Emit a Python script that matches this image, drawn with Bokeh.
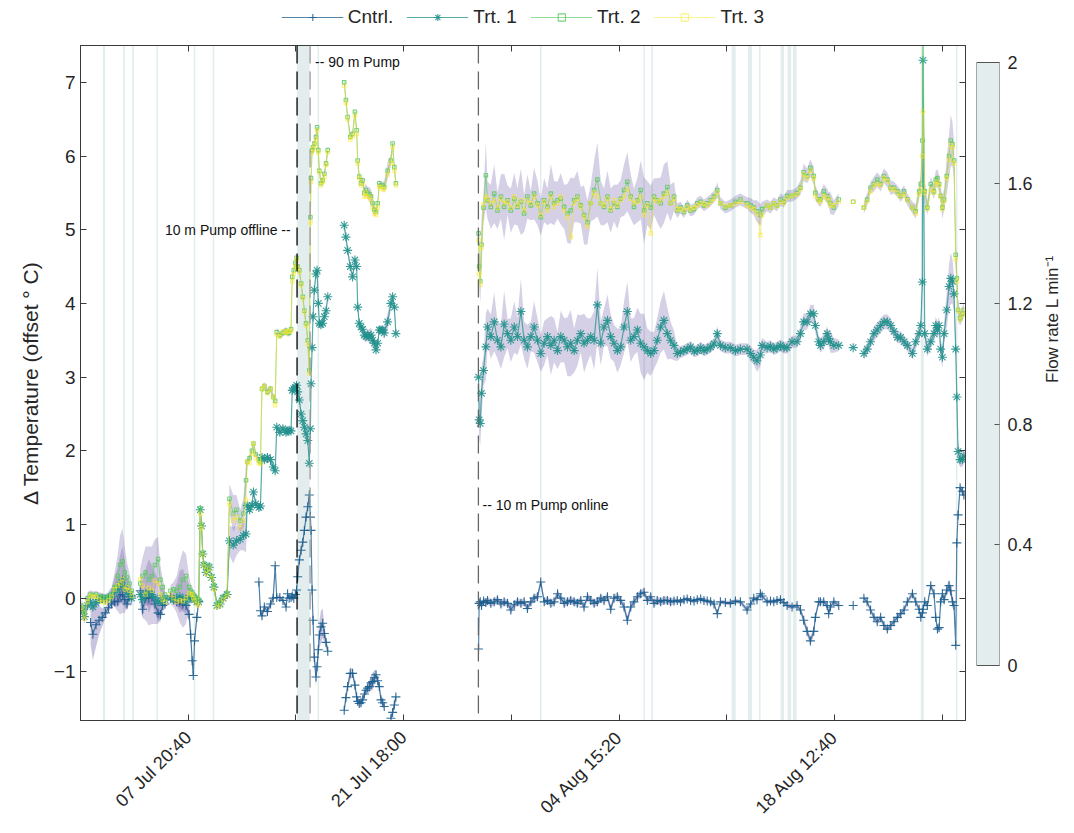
import math
from bokeh.plotting import figure
from bokeh.layouts import row, column
from bokeh.models import (Range1d, LinearAxis, FixedTicker, Legend, LegendItem, Label, Span)
from bokeh.embed import file_html
from bokeh.resources import INLINE

nan = float("nan")
FONT = "Liberation Sans"
TXT = "#262626"

# ---------------- data (time = days since 30 Jun 22:00) ----------------
days = [
    0.05, 0.25, 0.45, 0.65, 0.80, 1.00, 1.20, 1.40, 1.60, 1.80, 2.00, 2.20, 2.40, 2.55, 2.70, 2.85, 3.00, 3.15, 3.30,
    3.55,
    3.85, 4.00, 4.20, 4.40, 4.60, 4.80, 5.00, 5.15, 5.30, 5.45,
    5.62,
    5.80, 6.00, 6.20, 6.40, 6.60, 6.80, 7.00, 7.10, 7.20, 7.27, 7.35, 7.50, 7.62,
    7.72, 7.80, 7.88, 7.95, 8.10, 8.30, 8.45, 8.60, 8.80, 9.00, 9.20, 9.45,
    9.60, 9.85, 10.05, 10.30, 10.50, 10.67,
    10.75, 10.90, 11.05, 11.15, 11.30, 11.50,
    11.60, 11.70, 11.85, 12.05, 12.25, 12.42, 12.55,
    12.65, 12.85, 13.05, 13.25, 13.35, 13.45, 13.57,
    13.65, 13.75, 13.85, 13.93,
    14.00, 14.11, 14.22, 14.33, 14.43, 14.54, 14.65, 14.75, 14.82, 14.86, 14.93, 14.99, 15.07, 15.18, 15.25, 15.33, 15.40, 15.50, 15.61, 15.72, 15.83, 15.94,
    16.50,
    17.00, 17.11, 17.22, 17.39, 17.54, 17.69, 17.80, 17.87, 17.97, 18.08, 18.19, 18.30, 18.40, 18.51, 18.62, 18.73, 18.83, 18.94, 19.05, 19.16, 19.26, 19.37, 19.48, 19.58, 19.80, 20.01, 20.12, 20.23, 20.33,
    23.00,
    25.66, 25.70, 25.77, 25.85, 25.98, 26.13, 26.24, 26.45,
    26.67, 26.88, 27.10, 27.31, 27.53, 27.74, 27.96, 28.17,
    28.39, 28.60, 28.81, 29.03, 29.24, 29.46, 29.67, 29.89,
    30.10, 30.32, 30.53, 30.75, 30.96, 31.18, 31.39, 31.60,
    31.82, 32.03, 32.25, 32.46, 32.68, 32.89, 33.11, 33.32,
    33.54, 33.75, 33.97, 34.18, 34.39, 34.61, 34.82, 35.04,
    35.25, 35.47, 35.68, 35.90, 36.11, 36.33, 36.54, 36.76,
    36.97, 37.18, 37.40, 37.61, 37.83, 38.04, 38.26, 38.47,
    38.68, 38.90, 39.11, 39.33, 39.55, 39.76, 39.98, 40.19, 40.40, 40.62, 40.84, 41.05,
    41.25, 41.57, 41.89, 42.22, 42.54, 42.97, 43.20, 43.40, 43.61, 43.83,
    43.94, 44.26, 44.48, 44.69, 44.90, 45.12, 45.34, 45.55, 45.87, 46.19,
    46.41, 46.62, 46.84, 47.05, 47.27, 47.37, 47.59, 47.70, 47.91, 48.13,
    48.23, 48.34, 48.56, 48.88,
    49.30, 49.81, 50.10,
    50.50, 50.71, 50.93, 51.15, 51.36, 51.58, 51.79, 52.01, 52.23, 52.44,
    52.66, 52.87, 53.09, 53.30, 53.63, 53.84, 54.06, 54.17, 54.27, 54.31,
    54.42, 54.59, 54.81, 55.02, 55.13, 55.24, 55.35, 55.45, 55.56, 55.67,
    55.84, 55.99, 56.10, 56.21, 56.31, 56.42, 56.49, 56.57, 56.70, 56.85,
    56.95,
]

cntrl = [
    nan, nan, nan, -0.33, -0.49, -0.36, -0.30, -0.26, -0.20, -0.13, -0.08, -0.05, -0.04, 0.03, 0.05, -0.02, -0.08, 0.02, 0.03,
    nan,
    0.10, -0.15, 0.00, 0.00, 0.02, -0.08, -0.20, -0.22, -0.10, -0.08,
    nan,
    0.03, -0.02, -0.05, -0.05, -0.08, -0.10, -0.22, -0.49, -0.85, -1.05, -0.58, -0.26, -0.04,
    nan, nan, nan, nan, nan, nan, nan, nan, nan, nan, nan, nan,
    nan, nan, nan, nan, nan, nan,
    nan, nan, nan, nan, nan, 0.22,
    -0.17, -0.24, -0.12, -0.18, -0.08, 0.00, 0.44,
    0.01, 0.01, -0.03, -0.12, 0.06, 0.00, 0.01,
    0.03, 0.00, 0.05, 0.11,
    0.29, 0.52, 0.65, 0.76, 0.92, 1.10, 1.24, 1.40, 1.10, 0.92, 0.11, -0.30, -0.80, -1.07, -0.93, -0.70, -0.50, -0.39, -0.34, -0.48, -0.60, -0.72,
    nan,
    -1.52, -1.35, -1.20, -1.02, -1.02, -1.18, -1.34, -1.40, -1.43, -1.42, -1.38, -1.30, -1.25, -1.22, -1.20, -1.15, -1.13, -1.08, -1.04, -1.12, -1.20, -1.38, -1.42, -1.47, nan, -1.63, -1.55, -1.45, -1.34,
    nan,
    -0.69, -0.07, -0.05, -0.10, -0.04, -0.06, -0.03, -0.07,
    -0.05, -0.02, -0.08, -0.05, -0.07, -0.16, -0.09, -0.05,
    -0.07, -0.05, -0.14, -0.05, 0.00, 0.02, 0.22, -0.05,
    -0.03, -0.07, -0.05, 0.06, 0.00, -0.07, -0.05, -0.03,
    -0.05, -0.07, -0.03, -0.12, 0.02, -0.03, -0.07, -0.05,
    0.00, -0.03, 0.02, -0.15, 0.00, 0.02, -0.03, -0.12,
    -0.30, -0.12, -0.05, 0.02, 0.06, 0.08, -0.03, 0.02,
    -0.07, -0.03, -0.05, -0.03, -0.03, -0.05, -0.04, -0.03,
    -0.05, -0.02, -0.01, -0.03, -0.04, -0.02, -0.01, -0.03, -0.04, -0.05, -0.08, -0.21,
    -0.05, -0.06, -0.07, -0.04, -0.05, -0.16, -0.08, 0.00, -0.02, 0.06,
    0.03, -0.05, -0.04, -0.05, -0.03, -0.02, -0.06, -0.10, -0.12, -0.10,
    -0.16, -0.30, -0.45, -0.58, -0.45, -0.26, -0.05, -0.05, -0.05, -0.10,
    -0.21, -0.12, -0.05, -0.10,
    nan, -0.10, nan,
    0.00, -0.05, -0.16, -0.26, -0.32, -0.26, -0.37, -0.42, -0.37, -0.32,
    -0.26, -0.21, -0.16, -0.05, 0.06, -0.05, -0.15, -0.26, -0.20, -0.15,
    -0.05, -0.10, 0.17, 0.06, -0.26, -0.42, -0.40, -0.05, 0.06, -0.02,
    0.11, 0.17, 0.10, -0.05, -0.10, -0.64, 0.75, 1.13, 1.50, 1.45,
    1.40,
]

trt1 = [
    -0.15, -0.25, -0.10, -0.05, -0.12, -0.06, -0.02, 0.00, -0.02, 0.00, 0.02, 0.08, 0.12, 0.18, 0.25, 0.15, 0.08, 0.05, 0.00,
    nan,
    0.05, -0.02, 0.05, 0.08, 0.05, 0.00, -0.05, -0.05, 0.00, -0.02,
    nan,
    0.00, -0.02, 0.00, 0.02, 0.00, -0.05, 0.00, 0.02, 0.02, 0.00, -0.02, -0.05, -0.05,
    1.20, 0.98, 0.60, 0.45, 0.35, 0.42, 0.28, 0.15, -0.10, -0.08, 0.00, 0.05,
    0.78, 0.72, 0.78, 0.80, 0.85, 0.87,
    1.26, 1.20, 1.26, 1.44, 1.28, 1.23,
    1.25, 1.91, 1.88, 1.91, 1.88, 1.78, 1.73,
    2.32, 2.25, 2.30, 2.25, 2.27, 2.28, 2.27,
    2.82, 2.84, 2.86, 2.89,
    2.80, 2.69, 2.50, 2.41, 2.32, 2.23, 2.14, 1.83, 2.30, 2.91, 3.40, 3.82, 4.18, 4.40, 4.45, 4.00, 3.73, 3.71, 3.73, 3.82, 3.90, 4.09,
    nan,
    5.06, 4.90, 4.72, 4.50, 4.36, 4.59, 4.50, 3.95, 3.73, 3.68, 3.65, 3.57, 3.55, 3.57, 3.55, 3.57, 3.50, 3.46, 3.37, 3.46, 3.64, 3.64, 3.64, 3.60, 3.75, 4.00, 4.09, 3.95, 3.59,
    nan,
    3.00, 2.42, 2.37, 2.78, 3.09, 3.41, 3.68, 3.55,
    3.75, 3.50, 3.41, 3.72, 3.59, 3.50, 3.68, 3.55,
    3.89, 3.50, 3.41, 3.55, 3.68, 3.50, 3.32, 3.46,
    3.55, 3.43, 3.50, 3.36, 3.55, 3.50, 3.41, 3.46,
    3.36, 3.50, 3.59, 3.46, 3.50, 3.55, 3.50, 3.98,
    3.46, 3.68, 3.77, 3.55, 3.46, 3.36, 3.41, 3.68,
    3.89, 3.50, 3.55, 3.64, 3.46, 3.41, 3.36, 3.32,
    3.36, 3.50, 3.68, 3.77, 3.59, 3.50, 3.43, 3.32,
    3.34, 3.36, 3.38, 3.41, 3.35, 3.36, 3.40, 3.36, 3.38, 3.41, 3.45, 3.59,
    3.43, 3.40, 3.40, 3.36, 3.38, 3.38, 3.32, 3.27, 3.22, 3.30,
    3.43, 3.40, 3.42, 3.38, 3.40, 3.43, 3.40, 3.40, 3.48, 3.48,
    3.59, 3.75, 3.75, 3.86, 3.86, 3.70, 3.48, 3.43, 3.48, 3.59,
    3.52, 3.48, 3.43, 3.43,
    nan, 3.40, nan,
    3.32, 3.38, 3.48, 3.59, 3.64, 3.70, 3.75, 3.75, 3.70, 3.62,
    3.54, 3.54, 3.48, 3.43, 3.32, 3.48, 3.59, 3.70, 4.29, 7.30,
    3.59, 3.38, 3.48, 3.59, 3.70, 3.64, 3.70, 3.38, 3.27, 3.59,
    3.91, 4.23, 4.34, 4.30, 4.13, 3.38, 2.73, 1.99, 1.88, 1.88,
    1.93,
]

trt2 = [
    -0.10, -0.20, 0.00, 0.05, 0.04, 0.05, 0.03, 0.02, 0.00, 0.03, 0.05, 0.15, 0.30, 0.45, 0.50, 0.35, 0.28, 0.20, 0.10,
    nan,
    0.20, 0.30, 0.35, 0.25, 0.30, 0.45, 0.53, 0.25, 0.15, 0.05,
    nan,
    0.10, 0.12, 0.10, 0.15, 0.25, 0.30, 0.15, 0.10, 0.08, 0.05, 0.03, 0.00, -0.02,
    1.22, 1.00, 0.62, 0.47, 0.38, 0.45, 0.30, 0.18, -0.08, -0.05, 0.02, 0.07,
    1.35, 1.15, 1.20, 1.05, 1.15, 1.60,
    1.85, 1.90, 2.00, 2.10, 1.95, 1.87,
    1.85, 2.84, 2.88, 2.80, 2.84, 2.73, 2.68,
    3.61, 3.57, 3.60, 3.63, 3.60, 3.60, 3.65,
    4.36, 4.45, 4.55, 4.62,
    4.50, 4.45, 4.27, 4.09, 3.90, 3.73, 3.50, 3.09, 5.17, 5.70, 6.08, 6.12, 6.17, 6.26, 6.39, 6.08, 5.80, 5.63, 5.67, 5.76, 5.90, 6.08,
    nan,
    7.00, 6.76, 6.53, 6.26, 6.30, 6.60, 6.35, 5.94, 5.72, 5.63, 5.67, 5.50, 5.54, 5.50, 5.48, 5.45, 5.36, 5.27, 5.24, 5.36, 5.63, 5.60, 5.60, 5.58, 5.80, 5.94, 6.17, 5.85, 5.63,
    nan,
    4.95, 4.50, 4.30, 4.80, 5.30, 5.74, 5.40, 5.31,
    5.49, 5.26, 5.45, 5.31, 5.40, 5.26, 5.42, 5.31,
    5.38, 5.22, 5.45, 5.33, 5.49, 5.36, 5.17, 5.40,
    5.31, 5.49, 5.36, 5.40, 5.42, 5.31, 5.22, 5.26,
    5.40, 5.45, 5.33, 5.20, 5.10, 5.36, 5.54, 5.68,
    5.36, 5.31, 5.45, 5.26, 5.36, 5.31, 5.42, 5.54,
    5.65, 5.45, 5.31, 5.40, 5.54, 5.26, 5.36, 5.30,
    5.45, 5.40, 5.36, 5.49, 5.58, 5.36, 5.45, 5.26,
    5.30, 5.24, 5.33, 5.26, 5.28, 5.36, 5.38, 5.33, 5.36, 5.40, 5.45, 5.54,
    5.36, 5.30, 5.33, 5.38, 5.41, 5.36, 5.33, 5.30, 5.25, 5.20,
    5.28, 5.33, 5.30, 5.36, 5.33, 5.41, 5.38, 5.46, 5.46, 5.50,
    5.57, 5.78, 5.73, 5.84, 5.73, 5.50, 5.41, 5.41, 5.52, 5.46,
    5.41, 5.36, 5.30, 5.41,
    nan, 5.38, nan,
    5.30, 5.41, 5.57, 5.62, 5.68, 5.62, 5.73, 5.68, 5.57, 5.57,
    5.52, 5.46, 5.52, 5.41, 5.30, 5.25, 5.52, 5.62, 6.21, 7.60,
    5.52, 5.30, 5.62, 5.52, 5.68, 5.70, 5.62, 5.46, 5.30, 5.41,
    5.73, 6.00, 6.21, 6.16, 5.94, 4.66, 4.34, 3.91, 3.80, 3.86,
    3.91,
]

trt3 = [
    -0.13, -0.28, -0.05, 0.03, 0.02, 0.02, -0.02, -0.05, -0.06, -0.03, 0.02, 0.12, 0.17, 0.20, 0.26, 0.12, 0.15, 0.10, 0.03,
    nan,
    0.26, 0.17, 0.05, 0.14, 0.10, 0.24, 0.20, 0.05, -0.02, -0.05,
    nan,
    0.05, 0.00, -0.05, -0.03, -0.04, 0.00, 0.07, 0.05, 0.05, 0.00, -0.03, -0.08, -0.10,
    1.15, 0.95, 0.58, 0.43, 0.33, 0.40, 0.27, 0.12, -0.12, -0.10, -0.02, 0.03,
    1.28, 1.05, 1.10, 0.96, 1.05, 1.33,
    1.85, 1.83, 1.96, 2.10, 1.90, 1.83,
    1.82, 2.84, 2.88, 2.78, 2.84, 2.73, 2.62,
    3.58, 3.55, 3.62, 3.60, 3.62, 3.62, 3.63,
    4.30, 4.40, 4.50, 4.60,
    4.48, 4.43, 4.25, 4.07, 3.88, 3.70, 3.45, 3.05, 5.10, 5.65, 6.05, 6.10, 6.15, 6.22, 6.35, 6.05, 5.78, 5.60, 5.65, 5.72, 5.88, 6.05,
    nan,
    6.95, 6.72, 6.50, 6.22, 6.27, 6.55, 6.30, 5.90, 5.70, 5.60, 5.63, 5.45, 5.50, 5.45, 5.44, 5.40, 5.30, 5.22, 5.20, 5.30, 5.58, 5.58, 5.55, 5.55, 5.75, 5.90, 6.12, 5.80, 5.60,
    nan,
    4.86, 4.40, 4.25, 4.76, 5.35, 5.45, 5.42, 5.36,
    5.40, 5.30, 5.42, 5.36, 5.38, 5.30, 5.45, 5.33,
    5.40, 5.26, 5.40, 5.36, 5.45, 5.33, 5.20, 5.38,
    5.26, 5.45, 5.31, 5.36, 5.45, 5.26, 5.17, 4.90,
    5.36, 5.42, 5.31, 5.17, 5.04, 5.36, 5.50, 5.45,
    5.36, 5.33, 5.42, 5.28, 5.40, 5.33, 5.40, 5.45,
    5.55, 5.42, 5.36, 5.38, 5.45, 5.20, 5.33, 4.95,
    5.42, 5.38, 5.40, 5.45, 5.50, 5.36, 5.42, 5.28,
    5.28, 5.26, 5.30, 5.28, 5.30, 5.33, 5.36, 5.35, 5.33, 5.38, 5.42, 5.50,
    5.36, 5.32, 5.33, 5.35, 5.38, 5.33, 5.30, 5.28, 5.22, 4.93,
    5.20, 5.33, 5.30, 5.36, 5.32, 5.38, 5.36, 5.43, 5.46, 5.48,
    5.55, 5.75, 5.70, 5.80, 5.70, 5.45, 5.40, 5.38, 5.46, 5.43,
    5.40, 5.33, 5.33, 5.38,
    nan, 5.38, nan,
    5.30, 5.38, 5.52, 5.60, 5.62, 5.60, 5.70, 5.66, 5.55, 5.55,
    5.50, 5.45, 5.48, 5.40, 5.30, 5.22, 5.48, 5.55, 6.00, 6.60,
    5.50, 5.28, 5.55, 5.50, 5.62, 5.65, 5.60, 5.45, 5.28, 5.38,
    5.70, 5.95, 6.15, 6.12, 5.90, 4.60, 4.30, 3.90, 3.78, 3.84,
    3.90,
]

# spread (shaded band half-width) of the control and of the treatments
sd_cntrl = [
    nan, nan, nan, 0.30, 0.35, 0.30, 0.20, 0.12, 0.08, 0.06, 0.05, 0.05, 0.08, 0.10, 0.12, 0.10, 0.08, 0.06, 0.05,
    nan,
    0.08, 0.10, 0.10, 0.10, 0.10, 0.10, 0.12, 0.10, 0.08, 0.06,
    nan,
    0.05, 0.05, 0.06, 0.08, 0.10, 0.10, 0.10, 0.10, 0.08, 0.05, 0.05, 0.05, 0.05,
    nan, nan, nan, nan, nan, nan, nan, nan, nan, nan, nan, nan,
    nan, nan, nan, nan, nan, nan,
    nan, nan, nan, nan, nan, 0.05,
    0.05, 0.05, 0.05, 0.05, 0.05, 0.05, 0.05,
    0.03, 0.03, 0.03, 0.03, 0.03, 0.03, 0.03,
    0.03, 0.03, 0.03, 0.03,
    0.03, 0.03, 0.03, 0.03, 0.03, 0.03, 0.03, 0.03, 0.05, 0.05, 0.08, 0.10, 0.12, 0.12, 0.10, 0.12, 0.18, 0.22, 0.20, 0.12, 0.08, 0.05,
    nan,
    0.05, 0.05, 0.06, 0.08, 0.06, 0.05, 0.05, 0.05, 0.05, 0.05, 0.05, 0.05, 0.05, 0.06, 0.08, 0.10, 0.12, 0.10, 0.06, 0.05, 0.05, 0.05, 0.05, 0.05, nan, 0.05, 0.05, 0.05, 0.05,
    nan,
    0.05, 0.05, 0.05, 0.05, 0.05, 0.05, 0.05, 0.05,
    0.05, 0.05, 0.05, 0.05, 0.05, 0.05, 0.05, 0.05,
    0.05, 0.05, 0.05, 0.05, 0.05, 0.05, 0.05, 0.05,
    0.05, 0.05, 0.05, 0.05, 0.05, 0.05, 0.05, 0.05,
    0.05, 0.05, 0.05, 0.05, 0.05, 0.05, 0.05, 0.05,
    0.05, 0.05, 0.05, 0.05, 0.05, 0.05, 0.05, 0.05,
    0.06, 0.05, 0.05, 0.05, 0.05, 0.05, 0.05, 0.05,
    0.05, 0.05, 0.05, 0.05, 0.05, 0.05, 0.04, 0.03,
    0.03, 0.03, 0.03, 0.03, 0.03, 0.03, 0.03, 0.03, 0.03, 0.03, 0.03, 0.03,
    0.03, 0.03, 0.03, 0.03, 0.03, 0.04, 0.03, 0.03, 0.03, 0.03,
    0.03, 0.03, 0.03, 0.03, 0.03, 0.03, 0.03, 0.03, 0.03, 0.03,
    0.04, 0.05, 0.06, 0.06, 0.06, 0.05, 0.04, 0.04, 0.04, 0.04,
    0.04, 0.04, 0.04, 0.03,
    nan, 0.03, nan,
    0.03, 0.03, 0.03, 0.04, 0.04, 0.04, 0.04, 0.04, 0.04, 0.04,
    0.04, 0.04, 0.04, 0.04, 0.04, 0.04, 0.04, 0.04, 0.04, 0.04,
    0.04, 0.04, 0.04, 0.04, 0.05, 0.05, 0.05, 0.05, 0.05, 0.05,
    0.06, 0.08, 0.08, 0.08, 0.06, 0.05, 0.05, 0.05, 0.05, 0.05,
    0.05,
]

sd_trt = [
    0.08, 0.10, 0.08, 0.06, 0.05, 0.05, 0.05, 0.05, 0.05, 0.06, 0.10, 0.20, 0.30, 0.40, 0.45, 0.35, 0.20, 0.15, 0.10,
    nan,
    0.20, 0.25, 0.35, 0.45, 0.40, 0.35, 0.30, 0.20, 0.12, 0.08,
    nan,
    0.08, 0.10, 0.20, 0.35, 0.40, 0.30, 0.15, 0.10, 0.08, 0.06, 0.05, 0.05, 0.05,
    0.05, 0.05, 0.05, 0.05, 0.05, 0.05, 0.05, 0.05, 0.05, 0.05, 0.05, 0.05,
    0.20, 0.25, 0.20, 0.15, 0.20, 0.25,
    0.05, 0.05, 0.05, 0.05, 0.05, 0.05,
    0.05, 0.05, 0.05, 0.05, 0.05, 0.05, 0.05,
    0.05, 0.05, 0.05, 0.05, 0.05, 0.05, 0.05,
    0.05, 0.05, 0.05, 0.05,
    0.05, 0.05, 0.05, 0.05, 0.05, 0.05, 0.05, 0.05, 0.05, 0.05, 0.05, 0.05, 0.05, 0.05, 0.05, 0.05, 0.05, 0.05, 0.05, 0.05, 0.05, 0.05,
    nan,
    0.05, 0.05, 0.05, 0.05, 0.05, 0.05, 0.05, 0.05, 0.05, 0.05, 0.05, 0.08, 0.08, 0.08, 0.10, 0.10, 0.10, 0.08, 0.05, 0.05, 0.05, 0.05, 0.05, 0.08, 0.12, 0.08, 0.05, 0.05, 0.05,
    nan,
    0.30, 0.25, 0.30, 0.35, 0.20, 0.45, 0.25, 0.30,
    0.40, 0.25, 0.30, 0.45, 0.20, 0.30, 0.35, 0.25,
    0.45, 0.25, 0.30, 0.20, 0.35, 0.30, 0.25, 0.30,
    0.25, 0.40, 0.30, 0.25, 0.35, 0.30, 0.40, 0.45,
    0.30, 0.35, 0.25, 0.40, 0.30, 0.25, 0.40, 0.50,
    0.30, 0.25, 0.35, 0.30, 0.25, 0.30, 0.25, 0.35,
    0.40, 0.30, 0.25, 0.30, 0.40, 0.45, 0.30, 0.30,
    0.25, 0.30, 0.35, 0.40, 0.35, 0.25, 0.20, 0.10,
    0.08, 0.08, 0.08, 0.08, 0.08, 0.08, 0.08, 0.08, 0.08, 0.08, 0.08, 0.10,
    0.08, 0.08, 0.08, 0.08, 0.08, 0.08, 0.10, 0.10, 0.15, 0.15,
    0.10, 0.08, 0.08, 0.08, 0.08, 0.08, 0.08, 0.08, 0.08, 0.08,
    0.10, 0.12, 0.10, 0.12, 0.12, 0.10, 0.08, 0.10, 0.10, 0.10,
    0.10, 0.15, 0.10, 0.08,
    nan, 0.05, nan,
    0.08, 0.08, 0.08, 0.10, 0.10, 0.10, 0.10, 0.10, 0.10, 0.08,
    0.08, 0.08, 0.08, 0.08, 0.08, 0.10, 0.10, 0.10, 0.10, 0.10,
    0.15, 0.10, 0.10, 0.10, 0.12, 0.12, 0.12, 0.12, 0.15, 0.15,
    0.25, 0.30, 0.35, 0.30, 0.25, 0.20, 0.20, 0.15, 0.10, 0.10,
    0.10,
]

# flow-rate events (shaded vertical bands), days
flow_start = [1.45, 2.75, 3.33, 4.90, 7.30, 8.52, 13.96, 15.28, 29.62, 36.29, 36.80,
              41.97, 43.03, 43.74, 45.13, 45.58, 45.93, 54.17, 56.44]
flow_end = [1.58, 2.86, 3.44, 5.00, 7.40, 8.62, 14.78, 15.38, 29.72, 36.39, 36.90,
            42.23, 43.29, 43.84, 45.35, 45.81, 46.16, 54.36, 56.53]

pump_offline = 13.96
pump_90m = 14.80
pump_online = 25.65

tick_step = 10000 / 1440.0  # 6 d 22 h 40 min
x_ticks = [k * tick_step for k in range(1, 9)]
x_tick_labels = ["07 Jul 20:40", "", "21 Jul 18:00", "", "04 Aug 15:20", "", "18 Aug 12:40", ""]
y_ticks = [-1, 0, 1, 2, 3, 4, 5, 6, 7]
flow_ticks = [0, 0.4, 0.8, 1.2, 1.6, 2]
flow_tick_labels = ["0", "0.4", "0.8", "1.2", "1.6", "2"]

n = len(days)
for arr in (cntrl, trt1, trt2, trt3, sd_cntrl, sd_trt):
    assert len(arr) == n, (len(arr), n)

# ---------------- styles / layout ----------------
C_CNTRL = "#1a5e8e"
C_T1 = "#21918c"
C_T2 = "#5ec962"
C_T3 = "#fde725"
BAND = "#5b4a9b"
FLOW_COLOR = "#e3edee"
AX = "#3a3a3a"

X0, X1 = 0.0, 57.05
Y0, Y1 = -1.66, 7.5
PAGE_W, PAGE_H = 1074, 833
LEG_H = 33                      # strip holding the legend
MAIN_W = 968
FRAME_TOP_PAGE, FRAME_BOTTOM_PAGE = 45, 720
B_TOP = FRAME_TOP_PAGE - LEG_H
B_BOTTOM = PAGE_H - FRAME_BOTTOM_PAGE
PLOT_H = PAGE_H - LEG_H

SERIES = (("Cntrl.", cntrl), ("Trt. 1", trt1), ("Trt. 2", trt2), ("Trt. 3", trt3))
STYLE = {
    "Cntrl.": dict(color=C_CNTRL, marker="cross", size=9, lw=1.2, la=0.75, ma=0.9),
    "Trt. 1": dict(color=C_T1, marker="asterisk", size=9, lw=1.2, la=0.75, ma=0.9),
    "Trt. 2": dict(color=C_T2, marker="square", size=3.5, lw=1.0, la=0.65, ma=0.85),
    "Trt. 3": dict(color=C_T3, marker="square", size=3.5, lw=1.0, la=0.5, ma=0.6),
}

p = figure(width=MAIN_W, height=PLOT_H, x_range=Range1d(X0, X1), y_range=Range1d(Y0, Y1),
           output_backend="svg", toolbar_location=None,
           min_border_left=80, min_border_right=3,
           min_border_top=B_TOP, min_border_bottom=B_BOTTOM)
p.xgrid.visible = False
p.ygrid.visible = False
p.outline_line_color = AX
p.outline_line_width = 1
p.background_fill_color = "white"
p.border_fill_color = "white"

# flow bands
p.quad(left=flow_start, right=flow_end, bottom=Y0, top=Y1, fill_color=FLOW_COLOR,
       line_color=None, fill_alpha=1.0)

# event lines
p.add_layout(Span(location=pump_offline, dimension="height", line_color="black",
                  line_dash="18 8", line_width=1.3))
p.add_layout(Span(location=pump_90m, dimension="height", line_color="#9a9a9a",
                  line_dash="18 8", line_width=1.3))
p.add_layout(Span(location=pump_online, dimension="height", line_color="#666666",
                  line_dash="18 8", line_width=1.3))


def band_segments(x, y, s):
    segs, cur = [], []
    for xi, yi, si in zip(x, y, s):
        if math.isnan(yi) or math.isnan(si):
            if len(cur) > 1:
                segs.append(cur)
            cur = []
        else:
            cur.append((xi, yi - si, yi + si))
    if len(cur) > 1:
        segs.append(cur)
    return segs


for series, spread, alpha in ((cntrl, sd_cntrl, 0.33), (trt1, sd_trt, 0.26), (trt2, sd_trt, 0.26)):
    for seg in band_segments(days, series, spread):
        p.varea(x=[a for a, _, _ in seg], y1=[b for _, b, _ in seg], y2=[c for _, _, c in seg],
                fill_color=BAND, fill_alpha=alpha)


def draw_series(fig, name, ys, legend_marker_boost=0.0):
    st = STYLE[name]
    r1 = fig.line(days, ys, line_color=st["color"], line_width=st["lw"], line_alpha=st["la"])
    r2 = fig.scatter(days, ys, marker=st["marker"], size=st["size"] + legend_marker_boost,
                     line_color=st["color"], fill_alpha=0, line_width=1.1, line_alpha=st["ma"])
    return r1, r2


for name, ys in SERIES:
    draw_series(p, name, ys)

# annotations
for x, y, txt, align in ((13.55, 4.99, "10 m Pump offline --", "right"),
                         (15.12, 7.27, "-- 90 m Pump", "left"),
                         (25.92, 1.26, "-- 10 m Pump online", "left")):
    p.add_layout(Label(x=x, y=y, text=txt, text_align=align, text_baseline="middle",
                       text_font=FONT, text_font_size="14px", text_color="#111111"))

# axes
lab_ticks = [t for t, s in zip(x_ticks, x_tick_labels) if s]
min_ticks = [t for t, s in zip(x_ticks, x_tick_labels) if not s]
xa = p.xaxis[0]
xa.ticker = FixedTicker(ticks=lab_ticks, minor_ticks=min_ticks)
xa.major_label_overrides = {t: s for t, s in zip(x_ticks, x_tick_labels) if s}
xa.major_label_orientation = math.pi / 4
xa.major_label_text_font = FONT
xa.major_label_text_font_size = "18px"
xa.major_label_text_color = TXT
xa.major_label_standoff = 14
xa.major_tick_in = 6
xa.major_tick_out = 0
xa.minor_tick_in = 6
xa.minor_tick_out = 0
xa.minor_tick_line_color = AX
xa.axis_line_color = AX
xa.major_tick_line_color = AX

ya = p.yaxis[0]
ya.ticker = FixedTicker(ticks=y_ticks)
ya.major_label_text_font = FONT
ya.major_label_text_font_size = "19px"
ya.major_label_text_color = TXT
ya.major_tick_in = 6
ya.major_tick_out = 0
ya.minor_tick_line_color = None
ya.axis_line_color = AX
ya.major_tick_line_color = AX
ya.axis_label = "\u0394 Temperature (offset \u00b0 C)"
ya.axis_label_text_font = FONT
ya.axis_label_text_font_size = "21px"
ya.axis_label_text_font_style = "normal"
ya.axis_label_text_color = TXT
ya.axis_label_standoff = 9

top = LinearAxis(ticker=FixedTicker(ticks=x_ticks), major_label_text_color=None,
                 major_label_text_font_size="1px",
                 major_tick_in=6, major_tick_out=0, minor_tick_line_color=None,
                 axis_line_color=AX, major_tick_line_color=AX, major_label_standoff=0)
p.add_layout(top, "above")

right = LinearAxis(ticker=FixedTicker(ticks=y_ticks), major_label_text_color=None,
                   major_label_text_font_size="1px",
                   major_tick_in=6, major_tick_out=0, minor_tick_line_color=None,
                   axis_line_color=AX, major_tick_line_color=AX, major_label_standoff=0)
p.add_layout(right, "right")

# ---------------- legend strip on top ----------------
# the same series are drawn here, but the strip's y-range shows none of them;
# only their legend glyphs appear.
lf = figure(width=PAGE_W, height=LEG_H, x_range=Range1d(X0, X1), y_range=Range1d(100, 101),
            output_backend="svg", toolbar_location=None,
            x_axis_location=None, y_axis_location=None,
            min_border_left=80, min_border_right=PAGE_W - 965, min_border_top=0, min_border_bottom=0)
lf.xgrid.visible = False
lf.ygrid.visible = False
lf.outline_line_color = None
lf.background_fill_color = "white"
lf.border_fill_color = "white"
items = []
for name, ys in SERIES:
    r1, r2 = draw_series(lf, name, ys, legend_marker_boost=1.5 if STYLE[name]["size"] < 5 else 0.0)
    items.append(LegendItem(label=name, renderers=[r1, r2]))
legend = Legend(items=items, orientation="horizontal", location="center",
                label_text_font=FONT, label_text_font_size="19px", label_text_color=TXT,
                glyph_width=62, glyph_height=18, spacing=13, label_standoff=5,
                padding=2, margin=0, border_line_color=None, background_fill_alpha=0)
lf.add_layout(legend, "center")

# ---------------- flow-rate colour bar (separate narrow panel) ----------------
BAR_TOP_PX, BAR_BOTTOM_PX = 62, 665       # bar position on the page
px_per_unit = (BAR_BOTTOM_PX - BAR_TOP_PX) / (flow_ticks[-1] - flow_ticks[0])
q_lo = flow_ticks[0] - (FRAME_BOTTOM_PAGE - BAR_BOTTOM_PX) / px_per_unit
q_hi = flow_ticks[-1] + (BAR_TOP_PX - FRAME_TOP_PAGE) / px_per_unit

q = figure(width=PAGE_W - MAIN_W, height=PLOT_H, x_range=Range1d(0, 1), y_range=Range1d(q_lo, q_hi),
           output_backend="svg", toolbar_location=None, x_axis_location=None,
           y_axis_location="right",
           min_border_left=8, min_border_right=74,
           min_border_top=B_TOP, min_border_bottom=B_BOTTOM)
q.xgrid.visible = False
q.ygrid.visible = False
q.outline_line_color = None
q.background_fill_color = "white"
q.border_fill_color = "white"
q.quad(left=0, right=1, bottom=flow_ticks[0], top=flow_ticks[-1], fill_color=FLOW_COLOR,
       line_color="#555555", line_width=1)
qa = q.yaxis[0]
qa.ticker = FixedTicker(ticks=flow_ticks)
qa.major_label_overrides = {t: s for t, s in zip(flow_ticks, flow_tick_labels)}
qa.major_label_text_font = FONT
qa.major_label_text_font_size = "18px"
qa.major_label_text_color = TXT
qa.major_label_standoff = 8
qa.major_tick_in = 5
qa.major_tick_out = 0
qa.minor_tick_line_color = None
qa.axis_line_color = None
qa.major_tick_line_color = "#555555"
qa.axis_label = "Flow rate L min\u207b\u00b9"
qa.axis_label_text_font = FONT
qa.axis_label_text_font_size = "17px"
qa.axis_label_text_font_style = "normal"
qa.axis_label_text_color = TXT
qa.axis_label_standoff = 17
try:
    qa.axis_label_orientation = math.pi / 2
except AttributeError:
    pass

layout = column(lf, row(p, q, spacing=0), spacing=0)
open("out.html", "w").write(file_html(layout, INLINE))
